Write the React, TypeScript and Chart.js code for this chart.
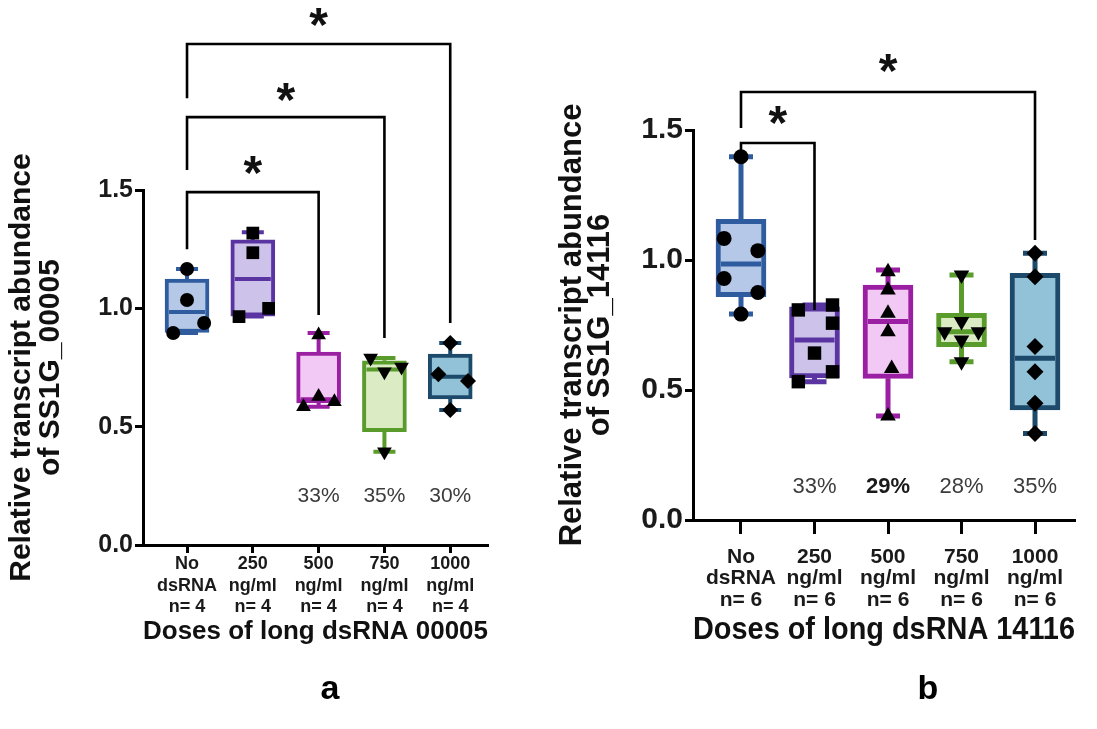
import React, { useEffect, useRef } from "react";
import { Chart, registerables } from "chart.js";

Chart.register(...registerables);

const FONT = "'Liberation Sans', Arial, Helvetica, sans-serif";

// ---------------- Panel a (SS1G_00005, n = 4) ----------------
const categoriesA = [
  ["No", "dsRNA", "n= 4"],
  ["250", "ng/ml", "n= 4"],
  ["500", "ng/ml", "n= 4"],
  ["750", "ng/ml", "n= 4"],
  ["1000", "ng/ml", "n= 4"],
];
const whiskerMinA = [0.896, 0.965, 0.584, 0.394, 0.57];
const quartile1A = [0.898, 0.967, 0.6, 0.479, 0.617];
const medianA = [0.984, 1.124, 0.616, 0.742, 0.711];
const quartile3A = [1.124, 1.289, 0.815, 0.778, 0.807];
const whiskerMaxA = [1.166, 1.322, 0.896, 0.79, 0.853];
const noDsrnaA = [1.166, 1.035, 0.938, 0.896];
const dose250A = [1.318, 1.235, 1.0, 0.965];
const dose500A = [0.887, 0.627, 0.605, 0.584];
const dose750A = [0.79, 0.752, 0.732, 0.394];
const dose1000A = [0.853, 0.722, 0.693, 0.57];
const jitterNoDsrnaA = [0, 0, 0.26, -0.21];
const jitter250A = [0, 0, 0.24, -0.21];
const jitter500A = [0, 0, 0.24, -0.23];
const jitter750A = [-0.21, 0.26, 0, 0];
const jitter1000A = [0, -0.18, 0.27, 0];
const reductionA = ["", "", "33%", "35%", "30%"];
const reductionBoldA = [false, false, false, false, false];

// ---------------- Panel b (SS1G_14116, n = 6) ----------------
const categoriesB = [
  ["No", "dsRNA", "n= 6"],
  ["250", "ng/ml", "n= 6"],
  ["500", "ng/ml", "n= 6"],
  ["750", "ng/ml", "n= 6"],
  ["1000", "ng/ml", "n= 6"],
];
const whiskerMinB = [0.792, 0.532, 0.4, 0.609, 0.333];
const quartile1B = [0.859, 0.546, 0.545, 0.667, 0.423];
const medianB = [0.985, 0.692, 0.763, 0.724, 0.622];
const quartile3B = [1.156, 0.82, 0.904, 0.795, 0.949];
const whiskerMaxB = [1.397, 0.827, 0.962, 0.942, 1.026];
const noDsrnaB = [1.397, 1.083, 1.036, 0.929, 0.875, 0.792];
const dose250B = [0.827, 0.808, 0.757, 0.642, 0.57, 0.532];
const dose500B = [0.955, 0.885, 0.795, 0.724, 0.583, 0.4];
const dose750B = [0.942, 0.763, 0.724, 0.724, 0.692, 0.609];
const dose1000B = [1.026, 0.936, 0.667, 0.57, 0.449, 0.333];
const jitterNoDsrnaB = [0, -0.23, 0.23, -0.23, 0.23, 0];
const jitter250B = [0.245, -0.22, 0.245, 0, 0.245, -0.22];
const jitter500B = [0, 0, 0, 0, 0.05, 0];
const jitter750B = [0, 0, -0.23, 0.23, 0, 0];
const jitter1000B = [0, 0, 0, 0, 0, 0];
const reductionB = ["", "33%", "29%", "28%", "35%"];
const reductionBoldB = [false, false, true, false, false];

// y-axis ticks
const yTicks = [0, 0.5, 1.0, 1.5];

// styles
const boxBorders = ["#2f5c9f", "#5a35a2", "#9a1fa2", "#5a9c2c", "#1d4a6b"];
const boxFills = ["#b6c8e8", "#cdc2ea", "#f2c9f4", "#dbecc4", "#92c2d8"];
const pointShapes = ["circle", "rect", "triangle", "triangle", "rectRot"];
const pointRotations = [0, 0, 0, 180, 0];

type Bracket = { from: number; to: number; level: number; leftEnd: number; rightEnd: number; star: number };

type Spec = {
  labels: string[][];
  mins: number[];
  q1: number[];
  med: number[];
  q3: number[];
  maxs: number[];
  points: number[][];
  jitter: number[][];
  pct: string[];
  pctBold: boolean[];
  pctY: number;
  brackets: Bracket[];
  xTitle: string;
  yTitle: string[];
  letter: string;
  letterX: number;
  letterY: number;
  xMin: number;
  xMax: number;
  width: number;
  padL: number;
  padR: number;
  padT: number;
  padB: number;
  yAxisW: number;
  xAxisH: number;
  xTickLen: number;
  xTickPad: number;
  xTickFont: number;
  xTickLH: number;
  xTitleFont: number;
  yTickFont: number;
  yTitleFont: number;
  yTitleLH: number;
  pctFont: number;
  boxWidth: number;
  capWidth: number;
  boxLine: number;
  radii: number[];
  starSize: number;
};

const specA: Spec = {
  labels: categoriesA,
  mins: whiskerMinA,
  q1: quartile1A,
  med: medianA,
  q3: quartile3A,
  maxs: whiskerMaxA,
  points: [noDsrnaA, dose250A, dose500A, dose750A, dose1000A],
  jitter: [jitterNoDsrnaA, jitter250A, jitter500A, jitter750A, jitter1000A],
  pct: reductionA,
  pctBold: reductionBoldA,
  pctY: 0.207,
  brackets: [
    { from: 0, to: 2, level: 1.491, leftEnd: 1.25, rightEnd: 0.972, star: 1.605 },
    { from: 0, to: 3, level: 1.808, leftEnd: 1.584, rightEnd: 0.875, star: 1.914 },
    { from: 0, to: 4, level: 2.117, leftEnd: 1.888, rightEnd: 0.938, star: 2.23 },
  ],
  xTitle: "Doses of long dsRNA 00005",
  yTitle: ["Relative transcript abundance", "of SS1G_00005"],
  letter: "a",
  letterX: 330,
  letterY: 690,
  xMin: -0.669,
  xMax: 4.574,
  width: 548,
  padL: 8,
  padR: 60,
  padT: 190,
  padB: 82,
  yAxisW: 135,
  xAxisH: 102,
  xTickLen: 8,
  xTickPad: 1,
  xTickFont: 18,
  xTickLH: 1.17,
  xTitleFont: 26,
  yTickFont: 25,
  yTitleFont: 30,
  yTitleLH: 0.94,
  pctFont: 21,
  boxWidth: 44,
  capWidth: 22,
  boxLine: 4,
  radii: [7, 9, 8.5, 8.5, 8],
  starSize: 48,
};

const specB: Spec = {
  labels: categoriesB,
  mins: whiskerMinB,
  q1: quartile1B,
  med: medianB,
  q3: quartile3B,
  maxs: whiskerMaxB,
  points: [noDsrnaB, dose250B, dose500B, dose750B, dose1000B],
  jitter: [jitterNoDsrnaB, jitter250B, jitter500B, jitter750B, jitter1000B],
  pct: reductionB,
  pctBold: reductionBoldB,
  pctY: 0.127,
  brackets: [
    { from: 0, to: 1, level: 1.45, leftEnd: 1.415, rightEnd: 0.808, star: 1.558 },
    { from: 0, to: 4, level: 1.646, leftEnd: 1.508, rightEnd: 1.077, star: 1.758 },
  ],
  xTitle: "Doses of long dsRNA 14116",
  yTitle: ["Relative transcript abundance", "of SS1G_14116"],
  letter: "b",
  letterX: 380,
  letterY: 690,
  xMin: -0.653,
  xMax: 4.544,
  width: 549,
  padL: 10,
  padR: 22,
  padT: 130,
  padB: 80,
  yAxisW: 135,
  xAxisH: 129,
  xTickLen: 14,
  xTickPad: 12,
  xTickFont: 21,
  xTickLH: 1.03,
  xTitleFont: 31,
  yTickFont: 30,
  yTitleFont: 31,
  yTitleLH: 0.91,
  pctFont: 22,
  boxWidth: 50,
  capWidth: 24,
  boxLine: 5,
  radii: [7.5, 9.5, 9, 9, 8.5],
  starSize: 48,
};

function extrasPlugin(s: Spec) {
  return {
    id: "boxExtras",
    afterDatasetDraw(chart: any, args: any) {
      if (args.index !== 0) return;
      const ctx = chart.ctx;
      const xs = chart.scales.x;
      const ys = chart.scales.y;
      ctx.save();
      ctx.lineWidth = s.boxLine;
      ctx.lineCap = "butt";
      s.med.forEach((m, i) => {
        const cx = xs.getPixelForValue(i);
        const yq1 = ys.getPixelForValue(s.q1[i]);
        const yq3 = ys.getPixelForValue(s.q3[i]);
        const yMin = ys.getPixelForValue(s.mins[i]);
        const yMax = ys.getPixelForValue(s.maxs[i]);
        const yMed = ys.getPixelForValue(m);
        ctx.strokeStyle = boxBorders[i];
        ctx.beginPath();
        ctx.moveTo(cx, yq3);
        ctx.lineTo(cx, yMax);
        ctx.moveTo(cx - s.capWidth / 2, yMax);
        ctx.lineTo(cx + s.capWidth / 2, yMax);
        ctx.moveTo(cx, yq1);
        ctx.lineTo(cx, yMin);
        ctx.moveTo(cx - s.capWidth / 2, yMin);
        ctx.lineTo(cx + s.capWidth / 2, yMin);
        ctx.moveTo(cx - s.boxWidth / 2 + s.boxLine, yMed);
        ctx.lineTo(cx + s.boxWidth / 2 - s.boxLine, yMed);
        ctx.stroke();
      });
      ctx.restore();
    },
    afterDraw(chart: any) {
      const ctx = chart.ctx;
      const xs = chart.scales.x;
      const ys = chart.scales.y;
      ctx.save();
      ctx.strokeStyle = "#000";
      ctx.fillStyle = "#111";
      ctx.lineWidth = 2.6;
      ctx.lineJoin = "miter";
      ctx.lineCap = "butt";
      s.brackets.forEach((b) => {
        const x0 = xs.getPixelForValue(b.from);
        const x1 = xs.getPixelForValue(b.to);
        const yl = ys.getPixelForValue(b.level);
        ctx.beginPath();
        ctx.moveTo(x0, ys.getPixelForValue(b.leftEnd));
        ctx.lineTo(x0, yl);
        ctx.lineTo(x1, yl);
        ctx.lineTo(x1, ys.getPixelForValue(b.rightEnd));
        ctx.stroke();
        ctx.font = `bold ${s.starSize}px ${FONT}`;
        ctx.textAlign = "center";
        ctx.textBaseline = "alphabetic";
        const m = ctx.measureText("*");
        const yc = ys.getPixelForValue(b.star);
        ctx.fillText("*", (x0 + x1) / 2, yc + (m.actualBoundingBoxAscent - m.actualBoundingBoxDescent) / 2);
      });
      ctx.textAlign = "center";
      ctx.textBaseline = "middle";
      s.pct.forEach((t, i) => {
        if (!t) return;
        ctx.font = `${s.pctBold[i] ? "bold " : ""}${s.pctFont}px ${FONT}`;
        ctx.fillStyle = s.pctBold[i] ? "#1a1a1a" : "#3c3c3c";
        ctx.fillText(t, xs.getPixelForValue(i), ys.getPixelForValue(s.pctY));
      });
      ctx.fillStyle = "#000";
      ctx.font = `bold 34px ${FONT}`;
      ctx.fillText(s.letter, s.letterX, s.letterY);
      ctx.restore();
    },
  };
}

function buildConfig(s: Spec): any {
  const datasets: any[] = [
    {
      type: "bar",
      data: s.q1.map((q, i) => ({ x: i, y: [q, s.q3[i]] })),
      backgroundColor: boxFills,
      borderColor: boxBorders,
      borderWidth: s.boxLine,
      borderSkipped: false,
      barThickness: s.boxWidth,
      grouped: false,
      order: 2,
    },
  ];
  s.points.forEach((vals, i) => {
    datasets.push({
      type: "scatter",
      data: vals.map((v, k) => ({ x: i + s.jitter[i][k], y: v })),
      pointStyle: pointShapes[i],
      pointRotation: pointRotations[i],
      pointRadius: s.radii[i],
      pointHoverRadius: s.radii[i],
      pointBackgroundColor: "#000",
      pointBorderColor: "#000",
      pointBorderWidth: 0,
      showLine: false,
      order: 1,
    });
  });

  return {
    type: "bar",
    data: { datasets },
    options: {
      responsive: false,
      animation: false,
      events: [],
      layout: { padding: { left: s.padL, right: s.padR, top: s.padT, bottom: s.padB } },
      plugins: {
        legend: { display: false },
        tooltip: { enabled: false },
        title: { display: false },
      },
      scales: {
        x: {
          type: "linear",
          min: s.xMin,
          max: s.xMax,
          offset: false,
          afterBuildTicks: (axis: any) => {
            axis.ticks = s.labels.map((_, i) => ({ value: i }));
          },
          afterFit: (axis: any) => {
            axis.height = s.xAxisH;
          },
          ticks: {
            autoSkip: false,
            maxRotation: 0,
            minRotation: 0,
            padding: s.xTickPad,
            color: "#1a1a1a",
            font: { family: FONT, size: s.xTickFont, weight: "bold", lineHeight: s.xTickLH },
            callback: (v: any) => s.labels[Math.round(Number(v))],
          },
          grid: {
            display: true,
            offset: false,
            drawOnChartArea: false,
            drawTicks: true,
            tickLength: s.xTickLen,
            tickWidth: 3,
            tickColor: "#000",
          },
          border: { display: true, color: "#000", width: 3 },
          title: {
            display: true,
            text: s.xTitle,
            color: "#111",
            padding: 0,
            font: { family: FONT, size: s.xTitleFont, weight: "bold", lineHeight: 1.2 },
          },
        },
        y: {
          type: "linear",
          min: 0,
          max: 1.5,
          afterBuildTicks: (axis: any) => {
            axis.ticks = yTicks.map((v) => ({ value: v }));
          },
          afterFit: (axis: any) => {
            axis.width = s.yAxisW;
          },
          ticks: {
            padding: 2,
            color: "#1a1a1a",
            font: { family: FONT, size: s.yTickFont, weight: "bold" },
            callback: (v: any) => Number(v).toFixed(1),
          },
          grid: {
            display: true,
            drawOnChartArea: false,
            drawTicks: true,
            tickLength: 8,
            tickWidth: 3,
            tickColor: "#000",
          },
          border: { display: true, color: "#000", width: 3 },
          title: {
            display: true,
            text: s.yTitle,
            color: "#111",
            padding: 0,
            font: { family: FONT, size: s.yTitleFont, weight: "bold", lineHeight: s.yTitleLH },
          },
        },
      },
    },
    plugins: [extrasPlugin(s)],
  };
}

function Panel({ spec, left }: { spec: Spec; left: number }) {
  const ref = useRef<HTMLCanvasElement | null>(null);
  useEffect(() => {
    if (!ref.current) return;
    const chart = new Chart(ref.current, buildConfig(spec));
    return () => chart.destroy();
  }, [spec]);
  return (
    <canvas
      ref={ref}
      width={spec.width}
      height={729}
      style={{ position: "absolute", left, top: 0, width: spec.width, height: 729, display: "block" }}
    />
  );
}

export default function App() {
  return (
    <div
      style={{
        position: "absolute",
        left: 0,
        top: 0,
        width: 1097,
        height: 729,
        background: "#ffffff",
        overflow: "hidden",
      }}
    >
      <Panel spec={specA} left={0} />
      <Panel spec={specB} left={548} />
    </div>
  );
}
